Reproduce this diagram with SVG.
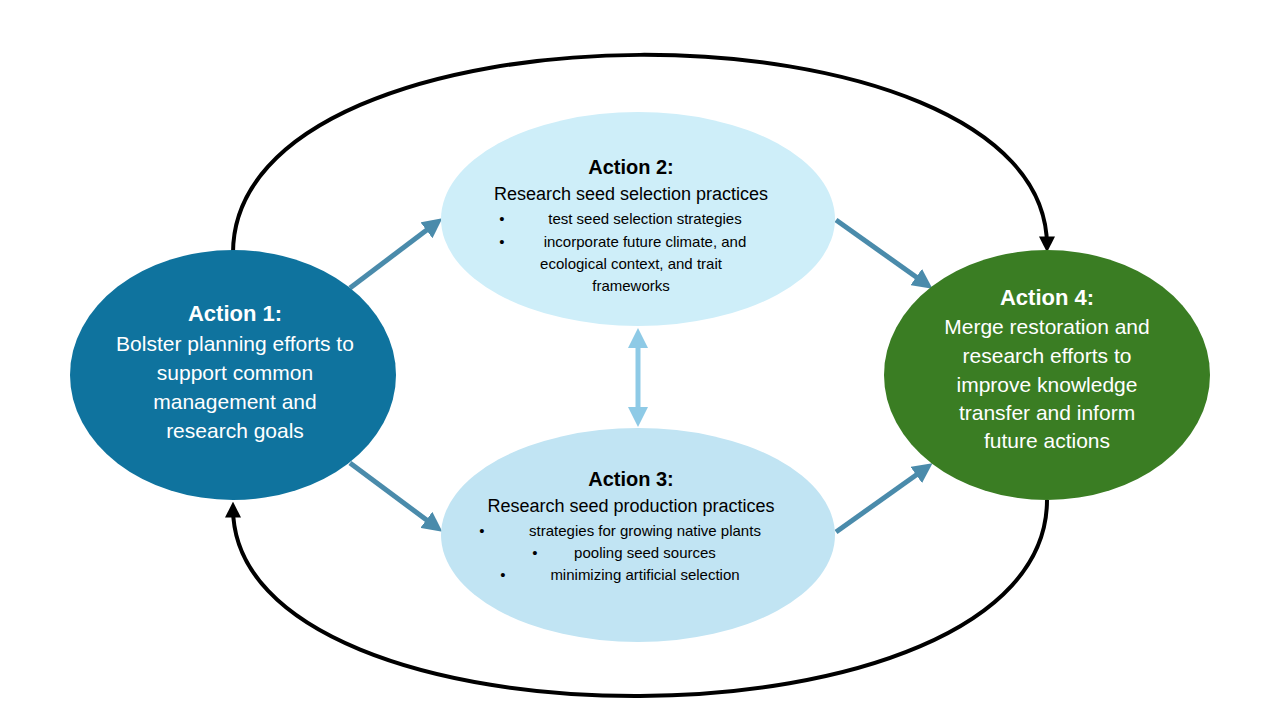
<svg xmlns="http://www.w3.org/2000/svg" width="1280" height="720" viewBox="0 0 1280 720">
<style>
text{font-family:"Liberation Sans",Arial,sans-serif;text-anchor:middle}
.w{fill:#fff;font-size:21px}
.wt{fill:#fff;font-size:22px;font-weight:bold}
.bt{fill:#000;font-size:20px;font-weight:bold}
.bs{fill:#000;font-size:18px}
.bb{fill:#000;font-size:15px}
.ba{stroke:#4a8bab;stroke-width:5;fill:none;marker-end:url(#bh)}
.k{stroke:#000;stroke-width:4;fill:none;marker-end:url(#kh)}
</style>
<defs>
<marker id="bh" viewBox="0 0 10 10" refX="6" refY="5" markerWidth="4" markerHeight="4" orient="auto"><path d="M0,0L10,5L0,10z" fill="#4a8bab"/></marker>
<marker id="lh" viewBox="0 0 10 10" refX="6" refY="5" markerWidth="4" markerHeight="4" orient="auto-start-reverse"><path d="M0,0L10,5L0,10z" fill="#8ecae6"/></marker>
<marker id="kh" viewBox="0 0 10 10" refX="6" refY="5" markerWidth="4" markerHeight="4" orient="auto"><path d="M0,0L10,5L0,10z" fill="#000"/></marker>
</defs>
<rect width="1280" height="720" fill="#fff"/>
<g id="connectors">
<path class="k" d="M233,253 C233,-10 1047,-10 1047,246"/>
<path class="k" d="M1047,500 C1047,760 233,760 233,508"/>
<line class="ba" x1="350" y1="288" x2="436" y2="223"/>
<line class="ba" x1="350" y1="463" x2="436" y2="527"/>
<line class="ba" x1="836" y1="220" x2="926" y2="284"/>
<line class="ba" x1="836" y1="532" x2="926" y2="468"/>
<line x1="638" y1="336" x2="638" y2="419" stroke="#8ecae6" stroke-width="5" marker-start="url(#lh)" marker-end="url(#lh)"/>
</g>
<g id="action1">
<ellipse cx="233" cy="375" rx="163" ry="125" fill="#0f739e"/>
<text class="wt" x="235" y="321">Action 1:</text>
<text class="w" x="235" y="351">Bolster planning efforts to</text>
<text class="w" x="235" y="380">support common</text>
<text class="w" x="235" y="409">management and</text>
<text class="w" x="235" y="438">research goals</text>
</g>
<g id="action2">
<ellipse cx="638" cy="219" rx="197" ry="107" fill="#ceeef9"/>
<text class="bt" x="631" y="174">Action 2:</text>
<text class="bs" x="631" y="200">Research seed selection practices</text>
<text class="bb" x="502" y="224">•</text><text class="bb" x="645" y="224">test seed selection strategies</text>
<text class="bb" x="502" y="247">•</text><text class="bb" x="645" y="247">incorporate future climate, and</text>
<text class="bb" x="631" y="269">ecological context, and trait</text>
<text class="bb" x="631" y="291">frameworks</text>
</g>
<g id="action3">
<ellipse cx="638" cy="535" rx="197" ry="107" fill="#c1e4f3"/>
<text class="bt" x="631" y="486">Action 3:</text>
<text class="bs" x="631" y="512">Research seed production practices</text>
<text class="bb" x="482" y="536">•</text><text class="bb" x="645" y="536">strategies for growing native plants</text>
<text class="bb" x="535" y="558">•</text><text class="bb" x="645" y="558">pooling seed sources</text>
<text class="bb" x="503" y="580">•</text><text class="bb" x="645" y="580">minimizing artificial selection</text>
</g>
<g id="action4">
<ellipse cx="1047" cy="375" rx="163" ry="125" fill="#3a7d23"/>
<text class="wt" x="1047" y="305">Action 4:</text>
<text class="w" x="1047" y="334">Merge restoration and</text>
<text class="w" x="1047" y="363">research efforts to</text>
<text class="w" x="1047" y="392">improve knowledge</text>
<text class="w" x="1047" y="420">transfer and inform</text>
<text class="w" x="1047" y="448">future actions</text>
</g>
</svg>
